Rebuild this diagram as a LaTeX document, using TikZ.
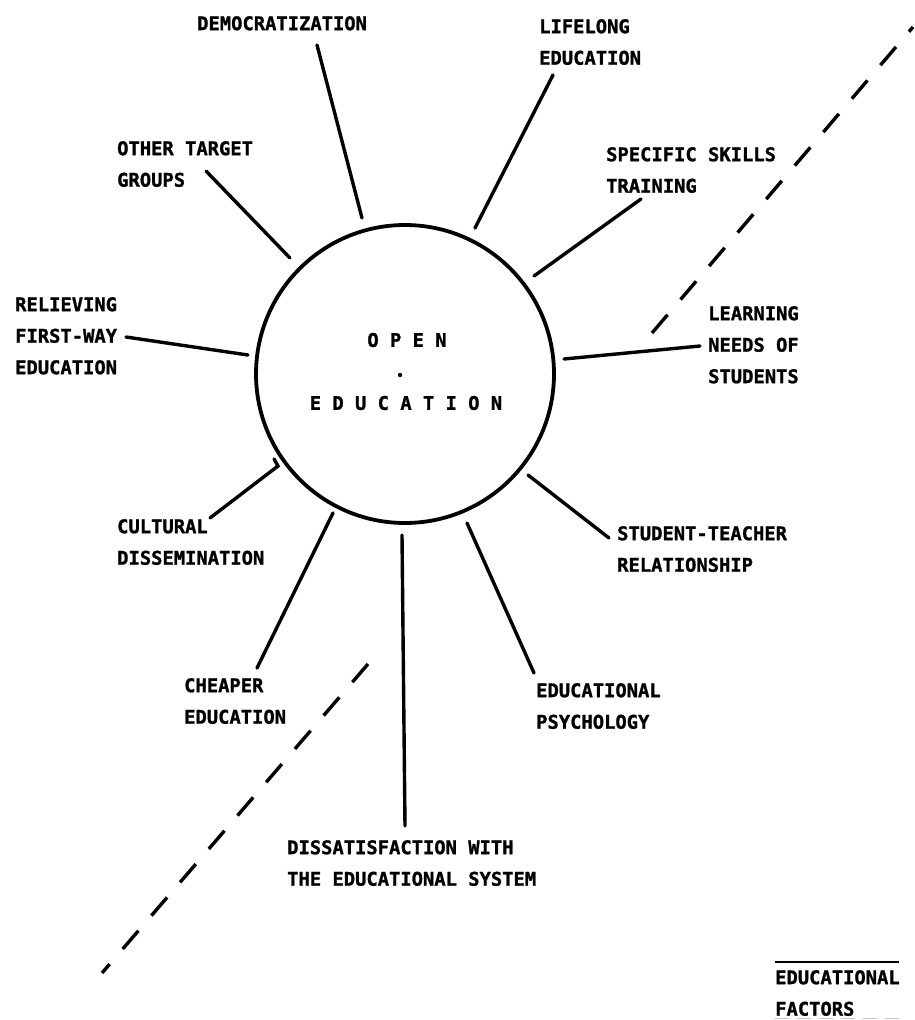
\documentclass[tikz,border=0pt]{standalone}
\usepackage{fontspec}
\newfontfamily\lblfont{DejaVu Sans Mono Bold}[FakeBold=1.2]
\begin{document}
\begin{tikzpicture}[x=1pt,y=-1pt,
  lbl/.style={anchor=north west,inner sep=0pt,align=left,
    font=\lblfont\fontsize{18.8}{31.5}\selectfont},
  ctr/.style={inner sep=0pt,font=\lblfont\fontsize{18.8}{31.5}\selectfont},
  spoke/.style={line width=3.4pt,line cap=round},
  divider/.style={line width=3.4pt,dash pattern=on 24pt off 20pt},
  hub/.style={circle,draw,line width=3.8pt,minimum size=298pt,inner sep=0pt}]
\useasboundingbox (0,0) rectangle (914,1020);
% hub
\node[hub] (hub) at (405,374) {};
\node[ctr] (open) at (407,340) {O P E N};
\node[ctr] (edu) at (406,403) {E D U C A T I O N};
\fill (400,375) circle (2.2pt);
% labels
\node[lbl] (democ) at (197,16) {DEMOCRATIZATION};
\node[lbl] (other) at (117,141) {OTHER TARGET\\GROUPS};
\node[lbl] (life) at (539,19) {LIFELONG\\EDUCATION};
\node[lbl] (skills) at (606,147) {SPECIFIC SKILLS\\TRAINING};
\node[lbl] (needs) at (708,306) {LEARNING\\NEEDS OF\\STUDENTS};
\node[lbl] (reliev) at (15,297) {RELIEVING\\FIRST-WAY\\EDUCATION};
\node[lbl] (cult) at (117,519) {CULTURAL\\DISSEMINATION};
\node[lbl] (cheap) at (184,678) {CHEAPER\\EDUCATION};
\node[lbl] (stud) at (617,526) {STUDENT-TEACHER\\RELATIONSHIP};
\node[lbl] (psy) at (536,683) {EDUCATIONAL\\PSYCHOLOGY};
\node[lbl] (diss) at (287,840) {DISSATISFACTION WITH\\THE EDUCATIONAL SYSTEM};
\node[lbl] (fact) at (775,970) {EDUCATIONAL\\FACTORS};
% spoke end points
\coordinate (d1) at (317,45);  \coordinate (d2) at (362,218);
\coordinate (o1) at (206,171); \coordinate (o2) at (290,258);
\coordinate (l1) at (553,75);  \coordinate (l2) at (475,228);
\coordinate (s1) at (641,199); \coordinate (s2) at (534,276);
\coordinate (n1) at (700,346); \coordinate (n2) at (564,359);
\coordinate (r1) at (126,337); \coordinate (r2) at (248,355);
\coordinate (c1) at (210,518); \coordinate (c2) at (278,466); \coordinate (c3) at (274,459);
\coordinate (e1) at (257,668); \coordinate (e2) at (333,513);
\coordinate (t1) at (609,538); \coordinate (t2) at (528,475);
\coordinate (p1) at (534,673); \coordinate (p2) at (467,523);
\coordinate (f1) at (405,826); \coordinate (f2) at (402,535);
\draw[spoke] (d1) -- (d2);
\draw[spoke] (o1) -- (o2);
\draw[spoke] (l1) -- (l2);
\draw[spoke] (s1) -- (s2);
\draw[spoke] (n1) -- (n2);
\draw[spoke] (r1) -- (r2);
\draw[spoke] (c1) -- (c2) -- (c3);
\draw[spoke] (e1) -- (e2);
\draw[spoke] (t1) -- (t2);
\draw[spoke] (p1) -- (p2);
\draw[spoke] (f1) -- (f2);
% dividing dashed line
\coordinate (a1) at (368,664); \coordinate (a2) at (102,973);
\coordinate (b1) at (652,333); \coordinate (b2) at (913,27);
\draw[divider] (a1) -- (a2);
\draw[divider] (b1) -- (b2);
% overline of the legend
\coordinate (u1) at (775,962); \coordinate (u2) at (899,962);
\draw[line width=2.8pt] (u1) -- (u2);
\coordinate (w1) at (775,1018.5); \coordinate (w2) at (899,1018.5);
\draw[gray!45,line width=1.5pt,dash pattern=on 14pt off 8pt] (w1) -- (w2);
\end{tikzpicture}
\end{document}
